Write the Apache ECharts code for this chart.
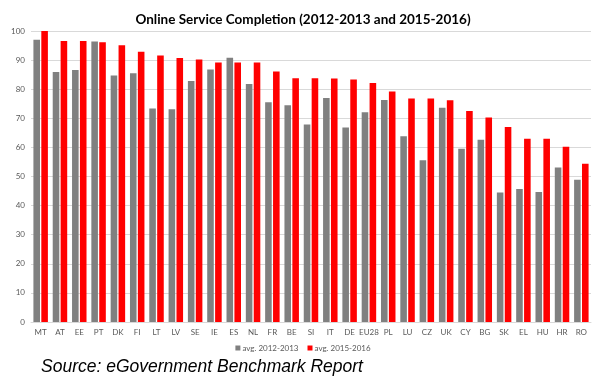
<!DOCTYPE html>
<html>
<head>
<meta charset="utf-8">
<script src="https://cdn.jsdelivr.net/npm/echarts@6/dist/echarts.min.js"></script>
<style>
html,body{margin:0;padding:0;background:#fff;}
#c{width:606px;height:387px;}
</style>
</head>
<body>
<div id="c"></div>
<script>
var categories = ["MT","AT","EE","PT","DK","FI","LT","LV","SE","IE","ES","NL","FR","BE","SI","IT","DE","EU28","PL","LU","CZ","UK","CY","BG","SK","EL","HU","HR","RO"];
var avg2012_2013 = [97.0,85.9,86.6,96.4,84.7,85.5,73.4,73.1,82.8,86.8,90.8,81.8,75.5,74.5,67.9,77.0,66.8,72.1,76.3,63.8,55.6,73.6,59.5,62.6,44.5,45.7,44.7,53.1,48.9];
var avg2015_2016 = [100,96.6,96.6,96.1,95.1,92.9,91.6,90.7,90.2,89.2,89.2,89.2,86.1,83.8,83.8,83.7,83.3,82.1,79.2,76.8,76.8,76.2,72.5,70.3,67.0,63.0,63.0,60.2,54.4];
var seriesNames = ["avg. 2012-2013","avg. 2015-2016"];
var yTicks = {min:0, max:100, interval:10};

var chart = echarts.init(document.getElementById('c'), null, {renderer:'canvas'});
var lblFont = 'Lato, "Open Sans", sans-serif';
chart.setOption({
  backgroundColor:'#ffffff',
  animation:false,
  title:{
    text:'Online Service Completion (2012-2013 and 2015-2016)',
    left:'center', top:8,
    textStyle:{fontFamily:lblFont, fontWeight:'bold', fontSize:13.5, color:'#000'}
  },
  legend:{
    data:seriesNames,
    left:'center', top:339,
    icon:'rect', itemWidth:5, itemHeight:5, itemGap:9,
    textStyle:{fontFamily:lblFont, fontSize:8, color:'#595959', padding:[0,0,0,-3]}
  },
  graphic:[{
    type:'text', left:41, top:358,
    style:{text:'Source: eGovernment Benchmark Report', font:'italic 17.5px "Liberation Sans", Arial, sans-serif', fill:'#000'}
  }],
  grid:{left:31, right:15, top:31, bottom:65, containLabel:false},
  xAxis:{
    type:'category', data:categories,
    axisLine:{lineStyle:{color:'#d9d9d9'}},
    axisTick:{show:false},
    axisLabel:{fontFamily:lblFont, fontSize:8, color:'#595959', margin:6, interval:0}
  },
  yAxis:{
    type:'value', min:yTicks.min, max:yTicks.max, interval:yTicks.interval,
    axisLine:{show:false}, axisTick:{show:false},
    axisLabel:{fontFamily:lblFont, fontSize:8, color:'#595959', margin:6},
    splitLine:{lineStyle:{color:'#d9d9d9'}}
  },
  series:[
    {name:seriesNames[0], type:'bar', data:avg2012_2013, itemStyle:{color:'#808080'}, barGap:'20%', barCategoryGap:'25%'},
    {name:seriesNames[1], type:'bar', data:avg2015_2016, itemStyle:{color:'#ff0000'}, barGap:'20%', barCategoryGap:'25%'}
  ]
});
</script>
</body>
</html>
